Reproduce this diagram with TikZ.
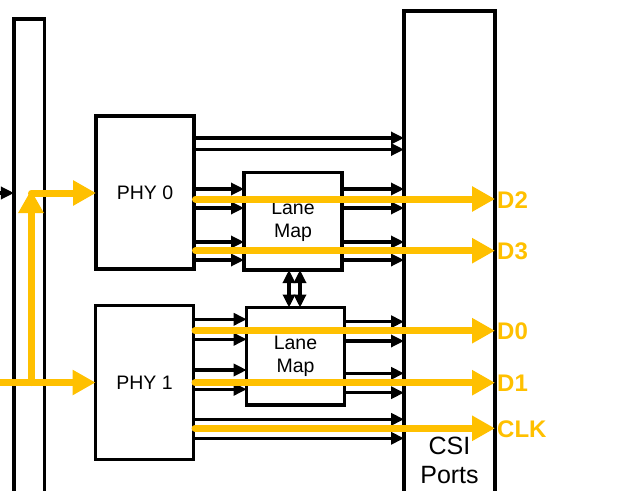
\documentclass[tikz,border=0pt]{standalone}
\usepackage{fontspec}
\setmainfont{Liberation Sans}
\usetikzlibrary{arrows.meta}
\definecolor{gold}{HTML}{FFC000}
\begin{document}
\begin{tikzpicture}[x=1pt,y=-1pt,
  box/.style={draw, line width=3.5pt, fill=white, inner sep=0pt, outer sep=0pt, rectangle},
  sig/.style={line width=3.2pt, -{Triangle[length=13pt,width=12pt]}},
  dsig/.style={line width=3.2pt, {Triangle[length=13pt,width=12pt]}-{Triangle[length=13pt,width=12pt]}},
  ysig/.style={draw=gold, line width=7pt, line cap=round, -{Triangle[length=23pt,width=24pt]}},
  lbl/.style={text=gold, font=\fontsize{24}{28}\selectfont\bfseries, anchor=west, inner sep=0pt},
  txt/.style={font=\fontsize{19.5}{23}\selectfont, align=center}
]
\useasboundingbox (0,0) rectangle (629,490);
\clip (0,0) rectangle (629,490);

% boxes
\node[box, minimum width=30.5pt, minimum height=501pt] (leftbar) at (29.25,269.5) {};
\node[box, minimum width=91pt, minimum height=509pt] (csi) at (449.5,265.5) {};
\node[box, txt, minimum width=98pt, minimum height=153pt] (phy0) at (145,192.5) {PHY 0};
\node[box, txt, minimum width=98pt, minimum height=154pt] (phy1) at (144.5,382.5) {PHY 1};
\node[box, txt, minimum width=98pt, minimum height=97.5pt] (lm0) at (293,221.25) {Lane\\Map};
\node[box, txt, minimum width=97.6pt, minimum height=97.5pt] (lm1) at (295.5,356.25) {Lane\\Map};
\node[font=\fontsize{25}{29}\selectfont, align=center, anchor=north, inner sep=0pt] (csitxt) at (449.5,437) {CSI\\Ports};

% incoming black arrow on the left
\coordinate (inL) at (-20,193);
\draw[sig] (inL) -- (leftbar.west |- 0,193);

% PHY 0 direct lines
\draw[sig] (phy0.east |- 0,138) -- (csi.west |- 0,138);
\draw[sig] (phy0.east |- 0,149.5) -- (csi.west |- 0,149.5);
% PHY 0 -> lane map 0
\foreach \y in {189,208,242,260}{
  \draw[sig] (phy0.east |- 0,\y) -- (lm0.west |- 0,\y);
  \draw[sig] (lm0.east |- 0,\y) -- (csi.west |- 0,\y);
}
% PHY 1 -> lane map 1
\foreach \a/\b in {319.3/321.7,339.3/341,370/373.3,389.3/392.7}{
  \draw[sig] (phy1.east |- 0,\a) -- (lm1.west |- 0,\a);
  \draw[sig] (lm1.east |- 0,\b) -- (csi.west |- 0,\b);
}
% PHY 1 direct lines
\draw[sig] (phy1.east |- 0,419.3) -- (csi.west |- 0,419.3);
\draw[sig] (phy1.east |- 0,438.3) -- (csi.west |- 0,438.3);

% lane map exchange
\draw[dsig] (lm0.south -| 289,0) -- (lm1.north -| 289,0);
\draw[dsig] (lm0.south -| 300,0) -- (lm1.north -| 300,0);

% yellow signal paths
\coordinate (inY) at (-10,382.5);
\draw[ysig] (inY) -- (phy1.west |- 0,382.5);
\draw[ysig] (31,382.5) -- (31,190);
\draw[ysig] (31.5,193) -- (phy0.west |- 0,193);

\draw[ysig] ([xshift=1.5pt]phy0.east |- 0,199) -- (csi.east |- 0,199);
\draw[ysig] ([xshift=1.5pt]phy0.east |- 0,250.7) -- (csi.east |- 0,250.7);
\draw[ysig] ([xshift=1.5pt]phy1.east |- 0,330.7) -- (csi.east |- 0,330.7);
\draw[ysig] ([xshift=1.5pt]phy1.east |- 0,382.7) -- (csi.east |- 0,382.7);
\draw[ysig] ([xshift=1.5pt]phy1.east |- 0,428.3) -- (csi.east |- 0,428.3);

% labels
\node[lbl] (d2) at (497,200) {D2};
\node[lbl] (d3) at (497,251.5) {D3};
\node[lbl] (d0) at (497,331.5) {D0};
\node[lbl] (d1) at (497,383.5) {D1};
\node[lbl] (clk) at (497,429) {CLK};
\end{tikzpicture}
\end{document}
